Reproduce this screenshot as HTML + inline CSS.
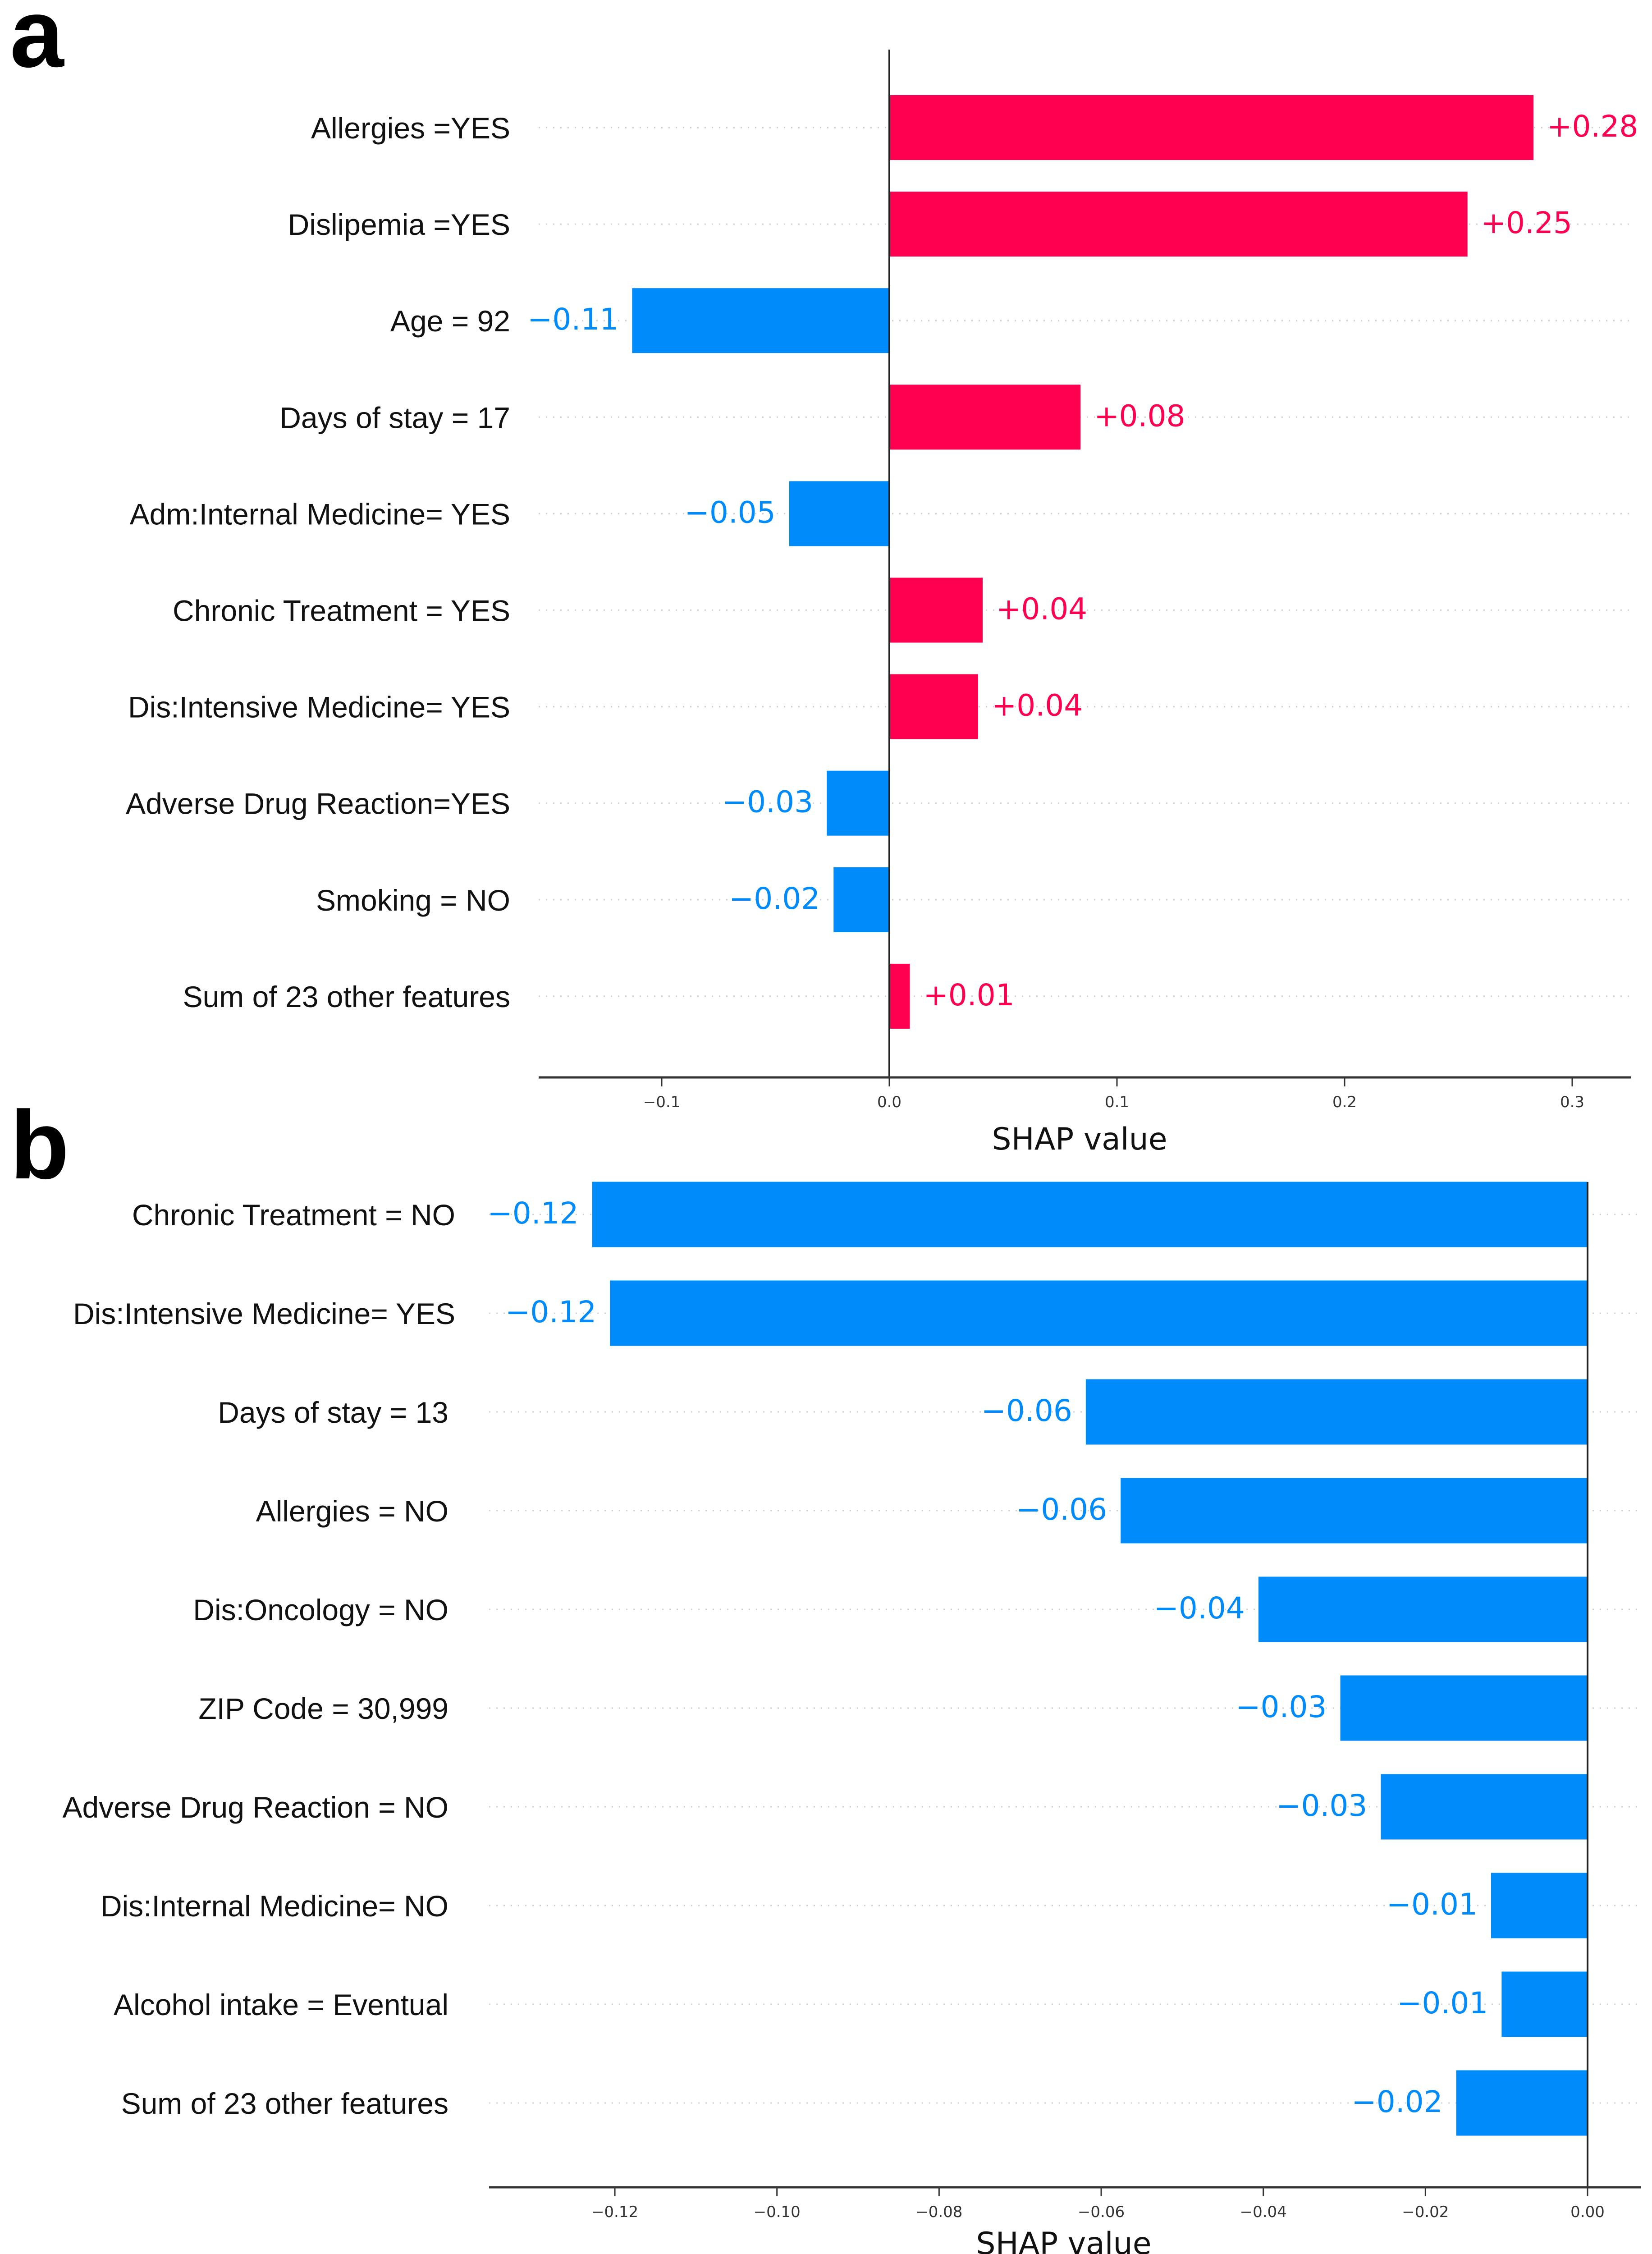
<!DOCTYPE html>
<html><head><meta charset="utf-8"><style>
html,body{margin:0;padding:0;background:#fff;overflow:hidden;width:3665px;height:5035px;}
svg{display:block;}
.lab{font-family:"Liberation Sans",Arial,sans-serif;font-size:66px;fill:#111;}
.val{font-family:"DejaVu Sans",sans-serif;font-size:66px;}
.tick{font-family:"DejaVu Sans",sans-serif;font-size:34px;fill:#333;}
.xt{font-family:"DejaVu Sans",sans-serif;font-size:68px;fill:#111;}
.panel{font-family:"Liberation Sans",Arial,sans-serif;font-weight:bold;font-size:215px;fill:#000;}
</style></head><body>
<svg id="fig" width="3665" height="5035" viewBox="0 0 3665 5035" xmlns="http://www.w3.org/2000/svg">
<text class="panel" x="22" y="148">a</text>
<text class="panel" x="22" y="2614">b</text>
<g id="chartA"></g>
<g id="chartB"></g>
</svg>
<script>
const featuresA = ["Allergies =YES","Dislipemia =YES","Age = 92","Days of stay = 17","Adm:Internal Medicine= YES","Chronic Treatment = YES","Dis:Intensive Medicine= YES","Adverse Drug Reaction=YES","Smoking = NO","Sum of 23 other features"];
const valuesA = [0.283,0.254,-0.113,0.084,-0.044,0.041,0.039,-0.0275,-0.0245,0.009];
const printedA = ["+0.28","+0.25","\u22120.11","+0.08","\u22120.05","+0.04","+0.04","\u22120.03","\u22120.02","+0.01"];
const ticksA = [-0.1,0,0.1,0.2,0.3];
const tickLabelsA = ["\u22120.1","0.0","0.1","0.2","0.3"];

const featuresB = ["Chronic Treatment = NO","Dis:Intensive Medicine= YES","Days of stay = 13","Allergies = NO","Dis:Oncology = NO","ZIP Code = 30,999","Adverse Drug Reaction = NO","Dis:Internal Medicine= NO","Alcohol intake = Eventual","Sum of 23 other features"];
const valuesB = [-0.1228,-0.1206,-0.0619,-0.0576,-0.0406,-0.0305,-0.0255,-0.0119,-0.0106,-0.0162];
const printedB = ["\u22120.12","\u22120.12","\u22120.06","\u22120.06","\u22120.04","\u22120.03","\u22120.03","\u22120.01","\u22120.01","\u22120.02"];
const ticksB = [-0.12,-0.10,-0.08,-0.06,-0.04,-0.02,0.00];
const tickLabelsB = ["\u22120.12","\u22120.10","\u22120.08","\u22120.06","\u22120.04","\u22120.02","0.00"];

const NS="http://www.w3.org/2000/svg";
function mk(parent,tag,attrs,text){const e=document.createElementNS(NS,tag);for(const k in attrs)e.setAttribute(k,attrs[k]);if(text!==undefined)e.textContent=text;parent.appendChild(e);return e;}

function draw(g,cfg,features,values,printed,ticks,tickLabels){
  const xs=v=>cfg.x0+v*cfg.scale;
  const ys=i=>cfg.y0+i*cfg.step;
  features.forEach((f,i)=>{
    const y=ys(i);
    const gl=mk(g,'line',{x1:cfg.left,x2:cfg.right,y1:y,y2:y,stroke:'#cfcfcf','stroke-width':3,'stroke-dasharray':'3 13'});
    
    
  });
  features.forEach((f,i)=>{
    const y=ys(i),v=values[i];
    const x1=Math.min(xs(0),xs(v)),w=Math.abs(xs(v)-xs(0));
    const col=v>=0?'#ff0051':'#008bfb';
    const r=mk(g,'rect',{x:x1,y:y-cfg.bh/2,width:w,height:cfg.bh,fill:col});
    
    
    const lx=v>=0?xs(v)+30:xs(v)-30;
    const t=mk(g,'text',{class:'val',x:lx,y:y+20,fill:col,'text-anchor':v>=0?'start':'end'},printed[i]);
    
    
    const fl=mk(g,'text',{class:'lab',x:cfg.labX[i],y:y+24,'text-anchor':'end'},f);
    
    
  });
  const zl=mk(g,'line',{x1:xs(0),x2:xs(0),y1:cfg.zTop,y2:cfg.axisY,stroke:'#222','stroke-width':4});
  
  
  const ax=mk(g,'line',{x1:cfg.left,x2:cfg.right,y1:cfg.axisY,y2:cfg.axisY,stroke:'#333','stroke-width':5});
  
  
  ticks.forEach((tv,i)=>{
    const x=xs(tv);
    const tk=mk(g,'line',{x1:x,x2:x,y1:cfg.axisY,y2:cfg.axisY+20,stroke:'#333','stroke-width':3});
    
    
    const tl=mk(g,'text',{class:'tick',x:x,y:cfg.axisY+66,'text-anchor':'middle'},tickLabels[i]);
    
    
  });
  const at=mk(g,'text',{class:'xt',x:cfg.titleX,y:cfg.axisY+cfg.titleOff,'text-anchor':'middle'},'SHAP value');
  
  
}

draw(document.getElementById('chartA'),{x0:1973,scale:5050,y0:283,step:214.1,bh:144,left:1195,right:3618,axisY:2390,zTop:110,titleX:2395,titleOff:160,
  labX:[1132,1132,1132,1132,1132,1132,1132,1132,1132,1132]},featuresA,valuesA,printedA,ticksA,tickLabelsA);
draw(document.getElementById('chartB'),{x0:3522,scale:17983,y0:2694,step:219,bh:145,left:1085,right:3640,axisY:4852,zTop:2622,titleX:2360,titleOff:148,
  labX:[1010,1010,995,995,995,995,995,995,995,995]},featuresB,valuesB,printedB,ticksB,tickLabelsB);
</script>
</body></html>
